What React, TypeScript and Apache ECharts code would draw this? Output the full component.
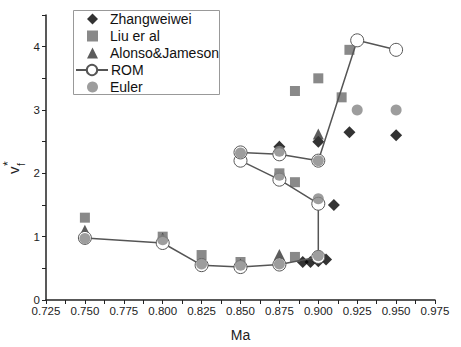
import React, { useEffect, useRef } from "react";
import * as echarts from "echarts";

const xTicks = { min: 0.725, max: 0.975, step: 0.0125 };
const yTicks = { min: 0, max: 4.5, step: 0.5 };

const zhangweiwei: number[][] = [
  [0.875, 2.42], [0.9, 2.5], [0.92, 2.65], [0.95, 2.6], [0.91, 1.5],
  [0.89, 0.6], [0.895, 0.6], [0.9, 0.61], [0.905, 0.64],
];
const liu: number[][] = [
  [0.75, 1.3], [0.8, 1.0], [0.825, 0.71], [0.85, 0.6], [0.885, 0.68],
  [0.875, 2.0], [0.885, 1.86], [0.885, 3.3], [0.9, 3.5], [0.915, 3.2], [0.92, 3.95],
];
const alonso: number[][] = [
  [0.75, 1.1], [0.8, 0.98], [0.85, 0.57], [0.875, 0.72], [0.875, 2.43], [0.9, 2.62],
];
const rom: number[][] = [
  [0.75, 0.98], [0.8, 0.9], [0.825, 0.55], [0.85, 0.52], [0.875, 0.56], [0.9, 0.68],
  [0.9, 1.52], [0.875, 1.9], [0.85, 2.2], [0.85, 2.33], [0.875, 2.3], [0.9, 2.2],
  [0.925, 4.1], [0.95, 3.95],
];
const euler: number[][] = [
  [0.75, 0.97], [0.8, 0.95], [0.825, 0.57], [0.85, 0.55], [0.875, 0.57], [0.9, 0.7],
  [0.875, 1.97], [0.9, 1.6], [0.85, 2.32], [0.875, 2.35], [0.9, 2.2],
  [0.925, 3.0], [0.95, 3.0],
];

export default function App() {
  const ref = useRef<HTMLDivElement>(null);
  useEffect(() => {
    if (!ref.current) return;
    const chart = echarts.init(ref.current, null, { renderer: "svg" });
    const font = "Liberation Sans, Arial, sans-serif";
    const legendText = { fontFamily: font, fontSize: 14, color: "#111", lineHeight: 14 };
    const symLegend = (top: number, names: string[]) => ({
      orient: "vertical",
      left: 87,
      top,
      itemWidth: 11,
      itemHeight: 11,
      itemGap: 3,
      padding: 0,
      textStyle: { ...legendText, padding: [0, 0, 0, 7] },
      data: names,
    });
    chart.setOption({
      animation: false,
      backgroundColor: "#ffffff",
      grid: { left: 46, right: 26, top: 15, bottom: 43 },
      legend: [
        symLegend(12, ["Zhangweiwei", "Liu er al", "Alonso&Jameson"]),
        {
          orient: "vertical",
          left: 75,
          top: 63,
          itemWidth: 32,
          itemHeight: 13,
          padding: 0,
          textStyle: { ...legendText, padding: [0, 0, 0, -2] },
          data: ["ROM"],
        },
        symLegend(80, ["Euler"]),
      ],
      xAxis: {
        type: "value",
        min: xTicks.min,
        max: xTicks.max,
        interval: xTicks.step,
        name: "Ma",
        nameLocation: "middle",
        nameGap: 28,
        nameTextStyle: { fontFamily: font, fontSize: 14, color: "#222" },
        axisLine: { show: true, lineStyle: { color: "#222", width: 1.5 } },
        axisTick: { show: true, length: 4, lineStyle: { color: "#222" } },
        splitLine: { show: false },
        axisLabel: {
          fontFamily: font,
          fontSize: 11.5,
          color: "#222",
          margin: 5,
          showMinLabel: true,
          showMaxLabel: true,
          formatter: (v: number) =>
            Math.round(v * 10000) % 250 === 0 ? v.toFixed(3) : "",
        },
      },
      yAxis: {
        type: "value",
        min: yTicks.min,
        max: yTicks.max,
        interval: yTicks.step,
        axisLine: { show: true, lineStyle: { color: "#222", width: 1.5 } },
        axisTick: { show: true, length: 4, lineStyle: { color: "#222" } },
        splitLine: { show: false },
        axisLabel: {
          fontFamily: font,
          fontSize: 11.5,
          color: "#222",
          margin: 6,
          formatter: (v: number) => (Math.abs(v - Math.round(v)) < 1e-6 && v < 4.4 ? String(Math.round(v)) : ""),
        },
      },
      series: [
        {
          name: "Zhangweiwei",
          type: "scatter",
          symbol: "diamond",
          symbolSize: 12,
          z: 2,
          itemStyle: { color: "#000" },
          data: zhangweiwei,
        },
        {
          name: "Liu er al",
          type: "scatter",
          symbol: "rect",
          symbolSize: 10,
          z: 2,
          itemStyle: { color: "#6c6c6c" },
          data: liu,
        },
        {
          name: "Alonso&Jameson",
          type: "scatter",
          symbol: "triangle",
          symbolSize: 11,
          z: 2,
          itemStyle: { color: "#333" },
          data: alonso,
        },
        {
          name: "ROM",
          type: "line",
          symbol: "circle",
          symbolSize: 13,
          showAllSymbol: true,
          z: 3,
          lineStyle: { color: "#555", width: 1.5 },
          itemStyle: { color: "#fff", borderColor: "#555", borderWidth: 1 },
          data: rom,
        },
        {
          name: "Euler",
          type: "scatter",
          symbol: "circle",
          symbolSize: 11,
          z: 5,
          itemStyle: { color: "#858585" },
          data: euler,
        },
      ],
      graphic: [
        {
          type: "rect",
          z: -1,
          shape: { x: 73.5, y: 10.5, width: 146, height: 84 },
          style: { fill: "#fff", stroke: "#999", lineWidth: 1 },
        },
        {
          type: "group",
          x: 14,
          y: 174,
          rotation: Math.PI / 2,
          children: [
            { type: "text", x: 0, y: -8, style: { text: "v", fontFamily: font, fontSize: 15, fill: "#222" } },
            { type: "text", x: 8, y: 2, style: { text: "f", fontFamily: font, fontSize: 10, fill: "#222" } },
            { type: "text", x: 8, y: -12, style: { text: "*", fontFamily: font, fontSize: 12, fill: "#222" } },
          ],
        },
      ],
    });
    return () => chart.dispose();
  }, []);
  return (
    <div
      ref={ref}
      style={{ position: "fixed", left: 0, top: 0, width: 461, height: 347 }}
    />
  );
}
